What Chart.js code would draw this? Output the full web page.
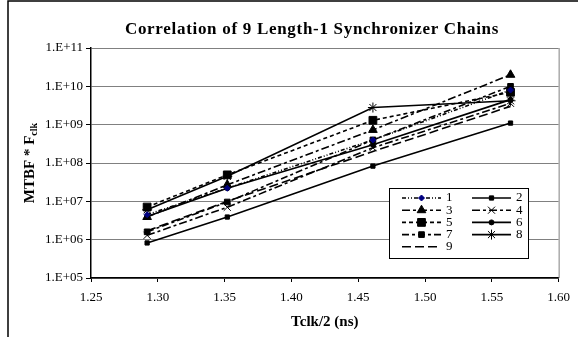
<!DOCTYPE html>
<html>
<head>
<meta charset="utf-8">
<script src="https://cdn.jsdelivr.net/npm/chart.js@4.4.1/dist/chart.umd.min.js"></script>
<style>
  html, body { margin: 0; padding: 0; background: #fff; }
</style>
</head>
<body>
<canvas id="mtbfChart" width="578" height="337"></canvas>
<script>
// Tclk/2 values (ns) where each chain was measured
const tclk = [1.292, 1.352, 1.461, 1.564];

// MTBF * Fclk for each of the 9 chains
const chain1 = [4.5e6, 2.2e7, 4.0e8, 8.0e9];
const chain2 = [8.2e5, 3.9e6, 8.3e7, 1.1e9];
const chain3 = [3.9e6, 2.7e7, 7.3e8, 2.0e10];
const chain4 = [1.3e6, 7.0e6, 2.5e8, 3.6e9];
const chain5 = [7.1e6, 4.9e7, 1.3e9, 7.0e9];
const chain6 = [4.0e6, 2.2e7, 3.0e8, 4.5e9];
const chain7 = [1.6e6, 9.6e6, 4.0e8, 1.0e10];
const chain8 = [6.0e6, 4.5e7, 2.8e9, 4.2e9];
const chain9 = [1.7e6, 1.0e7, 2.0e8, 3.0e9];

const chainLabels = ['1', '2', '3', '4', '5', '6', '7', '8', '9'];
const yTickValues = [1e5, 1e6, 1e7, 1e8, 1e9, 1e10, 1e11];

const chainData = [chain1, chain2, chain3, chain4, chain5, chain6, chain7, chain8, chain9];

// line / marker look per chain
const styles = [
    { dash: [4, 2, 1, 2, 1, 2], point: 'rectRot', r: 3, color: '#000080' },
    { dash: [], point: 'rect', r: 3, color: '#000' },
    { dash: [8, 3, 3, 3], point: 'triangle', r: 5, color: '#000' },
    { dash: [8, 3, 3, 3], point: 'crossRot', r: 5, color: '#000' },
    { dash: [4, 3], point: 'rect', r: 5.5, color: '#000' },
    { dash: [], point: 'circle', r: 2.5, color: '#000' },
    { dash: [7, 3, 3, 3], point: 'rect', r: 4, color: '#000' },
    { dash: [], point: 'star', r: 5, color: '#000' },
    { dash: [9, 4], point: false, r: 0, color: '#000' }
];

const datasets = chainData.map(function (vals, i) {
    const s = styles[i];
    return {
        label: chainLabels[i],
        data: vals.map(function (v, j) { return { x: tclk[j], y: v }; }),
        borderColor: '#000',
        borderWidth: 1.6,
        borderDash: s.dash,
        pointStyle: s.point,
        pointRadius: s.r,
        pointBackgroundColor: s.color,
        pointBorderColor: s.color,
        pointBorderWidth: 1,
        fill: false,
        tension: 0
    };
});

const serif = '"Liberation Serif", "Times New Roman", serif';

const decoration = {
    id: 'decoration',
    afterDraw: function (chart) {
        const ctx = chart.ctx;
        const area = chart.chartArea;
        ctx.save();

        // outer frame
        ctx.strokeStyle = '#000';
        ctx.lineWidth = 1.5;
        ctx.beginPath();
        ctx.moveTo(8, 340);
        ctx.lineTo(8, 1);
        ctx.lineTo(580, 1);
        ctx.stroke();

        // right plot border
        ctx.strokeStyle = '#808080';
        ctx.lineWidth = 1;
        ctx.beginPath();
        ctx.moveTo(area.right + 0.5, area.top);
        ctx.lineTo(area.right + 0.5, area.bottom);
        ctx.stroke();

        // title
        ctx.fillStyle = '#000';
        ctx.textAlign = 'center';
        ctx.textBaseline = 'middle';
        ctx.font = 'bold 17px ' + serif;
        ctx.letterSpacing = '0.7px';
        ctx.fillText('Correlation of 9 Length-1 Synchronizer Chains', 312, 30);
        ctx.letterSpacing = '0px';

        // x title
        ctx.font = 'bold 15px ' + serif;
        ctx.fillText('Tclk/2 (ns)', (area.left + area.right) / 2, 322);

        // y title with subscript
        ctx.save();
        ctx.translate(30, (area.top + area.bottom) / 2);
        ctx.rotate(-Math.PI / 2);
        const main = 'MTBF * F';
        ctx.font = 'bold 15px ' + serif;
        const w1 = ctx.measureText(main).width;
        ctx.font = 'bold 10px ' + serif;
        const w2 = ctx.measureText('clk').width;
        ctx.textAlign = 'left';
        ctx.font = 'bold 15px ' + serif;
        ctx.fillText(main, -(w1 + w2) / 2, 0);
        ctx.font = 'bold 10px ' + serif;
        ctx.fillText('clk', -(w1 + w2) / 2 + w1, 4);
        ctx.restore();

        // legend box
        const bx = 389, by = 188, bw = 139, bh = 70;
        ctx.fillStyle = '#fff';
        ctx.fillRect(bx, by, bw, bh);
        ctx.strokeStyle = '#000';
        ctx.lineWidth = 1;
        ctx.strokeRect(bx + 0.5, by + 0.5, bw, bh);

        ctx.font = '13px ' + serif;
        ctx.textAlign = 'left';
        ctx.textBaseline = 'middle';
        chart.data.datasets.forEach(function (ds, i) {
            const col = i % 2;
            const row = Math.floor(i / 2);
            const y = by + 10 + row * 12.2;
            const x0 = col === 0 ? bx + 13 : bx + 83;
            const x1 = x0 + 39;
            ctx.strokeStyle = '#000';
            ctx.lineWidth = 1.6;
            ctx.setLineDash(ds.borderDash);
            ctx.beginPath();
            ctx.moveTo(x0, y);
            ctx.lineTo(x1, y);
            ctx.stroke();
            ctx.setLineDash([]);
            if (ds.pointStyle) {
                ctx.fillStyle = ds.pointBackgroundColor;
                ctx.strokeStyle = ds.pointBorderColor;
                ctx.lineWidth = 1;
                Chart.helpers.drawPoint(ctx, {
                    pointStyle: ds.pointStyle,
                    radius: ds.pointRadius,
                    rotation: 0,
                    borderWidth: 1
                }, (x0 + x1) / 2, y);
            }
            ctx.fillStyle = '#000';
            ctx.fillText(ds.label, x1 + 5, y);
        });

        ctx.restore();
    }
};

const ctxMtbf = document.getElementById('mtbfChart').getContext('2d');
const mtbfChart = new Chart(ctxMtbf, {
    type: 'line',
    data: { datasets: datasets },
    plugins: [decoration],
    options: {
        responsive: false,
        devicePixelRatio: 1,
        animation: false,
        layout: {
            padding: { top: 48, right: 19, bottom: 0, left: 0 }
        },
        scales: {
            x: {
                type: 'linear',
                min: 1.25,
                max: 1.6,
                ticks: {
                    stepSize: 0.05,
                    color: '#000',
                    font: { family: serif, size: 13 },
                    padding: 8,
                    callback: function (v) { return v.toFixed(2); }
                },
                grid: {
                    drawOnChartArea: false,
                    tickLength: 4,
                    tickColor: '#000'
                },
                border: { color: '#000', width: 1.5 },
                afterFit: function (scale) { scale.height = 59; }
            },
            y: {
                type: 'logarithmic',
                min: 1e5,
                max: 1e11,
                afterBuildTicks: function (scale) {
                    scale.ticks = yTickValues.map(function (v) { return { value: v }; });
                },
                ticks: {
                    color: '#000',
                    font: { family: serif, size: 13 },
                    padding: 3,
                    callback: function (v) {
                        return '1.E+' + String(Math.round(Math.log10(v))).padStart(2, '0');
                    }
                },
                grid: {
                    color: '#808080',
                    lineWidth: 1,
                    tickLength: 5,
                    tickColor: '#000'
                },
                border: { color: '#000', width: 1.5 },
                afterFit: function (scale) { scale.width = 91; }
            }
        },
        plugins: {
            legend: { display: false },
            tooltip: { enabled: false }
        }
    }
});
</script>
</body>
</html>
